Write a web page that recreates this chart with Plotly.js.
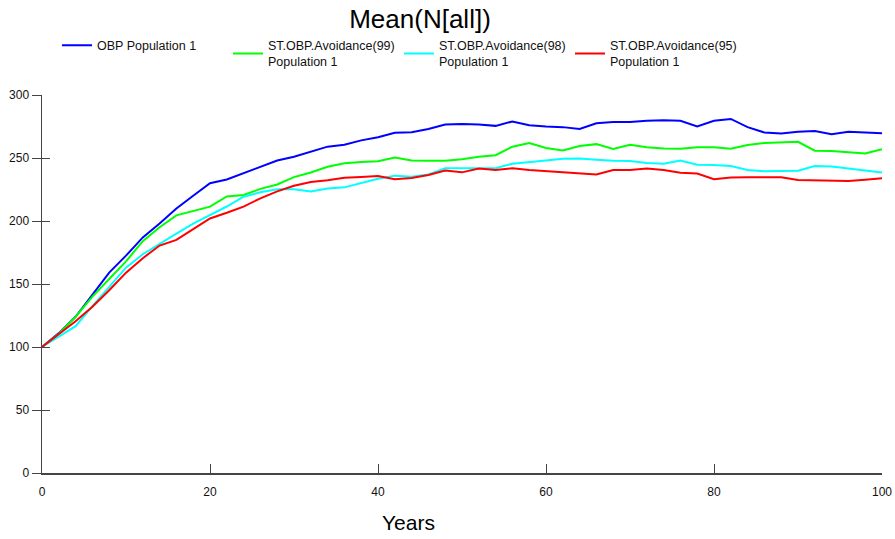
<!DOCTYPE html>
<html>
<head>
<meta charset="utf-8">
<script src="https://cdn.plot.ly/plotly-3.0.1.min.js"></script>
<style>html,body{margin:0;padding:0;background:#fff;}#chart{width:895px;height:539px;}</style>
</head>
<body>
<div id="chart"></div>
<script>
const years = [0,2,4,6,8,10,12,14,16,18,20,22,24,26,28,30,32,34,36,38,40,42,44,46,48,50,52,54,56,58,60,62,64,66,68,70,72,74,76,78,80,82,84,86,88,90,92,94,96,98,100];

const obp = [100,111,124,142,159,172.5,187,198,210,220,230,233,238,243.5,248,251,255,259,260.5,264,266.5,270,270.5,273,276.5,277,276.5,275.5,279,276,275,274.5,273,277.5,278.5,278.5,279.5,280,279.5,275,279.5,281,274.5,270.2,269.5,270.8,271.5,268.8,270.9,270.5,269.6];

const avoid99 = [100,110.5,124,140,154,168,184,195,204.5,208,211.4,219.5,220.6,225.5,229,234.8,238.5,243,245.8,246.8,247.5,250.3,248,247.9,247.9,249,251,252.2,259,261.8,258,256,259.5,261,257.2,260.5,258.5,257.5,257.3,258.5,258.5,257.4,260.3,262,262.5,262.8,255.8,255.5,254.5,253.5,256.9];

const avoid98 = [100,108,116.5,132.5,148,163,173.6,182,190,198,205,211.5,219.3,222.8,225.2,225.2,223.4,225.8,226.7,230.4,233.6,236,235.2,237,241.8,241.8,241.8,241.8,245.5,247,248,249.4,249.7,248.6,247.8,247.6,246,245.5,248,244.7,244.5,243.6,240.5,239.5,239.9,239.9,243.7,243.2,241.6,239.9,238.4];

const avoid95 = [100,110.5,120.5,132,145,159,170.5,180.5,185,193.5,202,206.5,211.4,218,223.5,228,231,232.3,234.4,235,235.7,233.2,234.2,236.5,240,238.6,241.6,240.5,241.8,240.5,239.7,238.8,238.4,237,240.5,240.5,241.6,240.5,238.3,237.7,233.2,234.5,234.7,234.7,234.7,232.6,232.2,231.8,231.8,232.8,233.9];

const seriesNames = ['OBP Population 1','ST.OBP.Avoidance(99)<br>Population 1','ST.OBP.Avoidance(98)<br>Population 1','ST.OBP.Avoidance(95)<br>Population 1'];
const seriesColors = ['#0000ff','#00ff00','#00ffff','#ff0000'];
const seriesValues = [obp, avoid99, avoid98, avoid95];

const xTicks = [0,20,40,60,80,100];
const yTicks = [0,50,100,150,200,250,300];

const traces = seriesValues.map((v,i)=>({
  type:'scatter', mode:'lines', x: years, y: v, name: seriesNames[i],
  line:{color: seriesColors[i], width:2}
}));
// empty helper trace so the overlay axis (inner half of the crossing y ticks) is drawn
traces.push({type:'scatter', mode:'lines', x:[], y:[], yaxis:'y2', showlegend:false, hoverinfo:'skip'});

const font = 'Arial, "Liberation Sans", sans-serif';
const layout = {
  width:895, height:539,
  paper_bgcolor:'#ffffff', plot_bgcolor:'#ffffff',
  margin:{l:42, r:13, t:95, b:66},
  font:{family:font, color:'#111111', size:12},
  title:{text:'Mean(N[all])', font:{family:font, size:26, color:'#000'}, x:420/895, xanchor:'center', xref:'container', y:1-19/539, yanchor:'middle', yref:'container'},
  showlegend:true,
  legend:{orientation:'h', x:15/840, xanchor:'left', y:1.17, yanchor:'top', font:{family:font, size:12.5, color:'#111'}, entrywidth:126, bgcolor:'rgba(0,0,0,0)', traceorder:'normal', itemwidth:30},
  xaxis:{range:[0,100], tickvals:xTicks, ticktext:xTicks.map(String), ticks:'inside', ticklen:9, tickcolor:'#444', tickwidth:1, ticklabelstandoff:7,
    showline:true, linecolor:'#444', linewidth:1.5, showgrid:false, zeroline:false, tickfont:{size:12, color:'#111'}, fixedrange:true},
  yaxis:{range:[0,300], tickvals:yTicks, ticktext:yTicks.map(String), ticks:'outside', ticklen:9, tickcolor:'#444', tickwidth:1,
    showline:true, linecolor:'#444', linewidth:1.5, showgrid:false, zeroline:false, tickfont:{size:12, color:'#111'}, fixedrange:true},
  yaxis2:{range:[0,300], overlaying:'y', anchor:'x', side:'left', tickvals:yTicks, ticks:'inside', ticklen:8, tickcolor:'#444', tickwidth:1,
    showticklabels:false, showline:false, showgrid:false, zeroline:false, fixedrange:true},
  annotations:[{text:'Years', xref:'paper', yref:'paper', x:(408-42)/840, y:-(522-473)/378, xanchor:'center', yanchor:'middle', showarrow:false, font:{family:font, size:21, color:'#000'}}]
};

Plotly.newPlot('chart', traces, layout, {displayModeBar:false, staticPlot:true});
</script>
</body>
</html>
